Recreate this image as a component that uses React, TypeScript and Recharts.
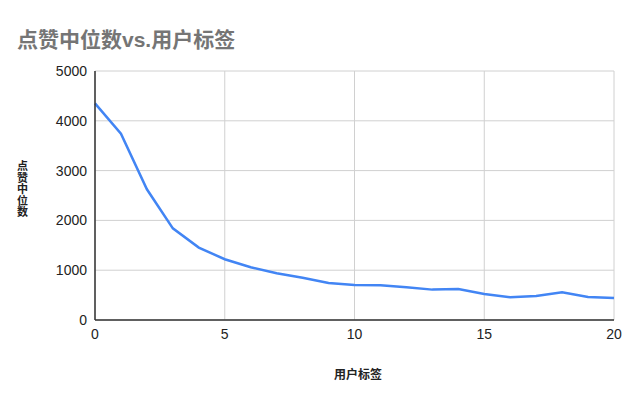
import React from 'react';
import { LineChart, Line, XAxis, YAxis, CartesianGrid } from 'recharts';

// 用户标签 0..20
const labels = [0, 1, 2, 3, 4, 5, 6, 7, 8, 9, 10, 11, 12, 13, 14, 15, 16, 17, 18, 19, 20];
const medianLikes = [
    4350, 3740, 2625, 1840, 1455, 1220, 1060, 940, 850, 745,
    705, 698, 656, 610, 622, 522, 457, 482, 556, 462, 442,
];
const xTicks = [0, 5, 10, 15, 20];
const yTicks = [0, 1000, 2000, 3000, 4000, 5000];

const data = labels.map((x, i) => ({ x, y: medianLikes[i] }));

const FONT = 'Arial, "Liberation Sans", "Noto Sans CJK SC", sans-serif';

export default function App() {
    return (
        <div style={{ position: 'absolute', left: 0, top: 0, width: 641, height: 404, background: '#fff', fontFamily: FONT }}>
            {/* title */}
            <div style={{ position: 'absolute', left: 17, top: 23, fontSize: 21, fontWeight: 700, color: '#757575', whiteSpace: 'nowrap' }}>
                点赞中位数vs.用户标签
            </div>
            {/* y axis title, stacked */}
            <div style={{ position: 'absolute', left: 16, top: 161, width: 13, fontSize: 11, lineHeight: '11.5px', fontWeight: 700, color: '#222', textAlign: 'center' }}>
                {'点赞中位数'.split('').map((c, i) => <div key={i}>{c}</div>)}
            </div>
            {/* x axis title */}
            <div style={{ position: 'absolute', left: 358, top: 365, transform: 'translateX(-50%)', fontSize: 12, fontWeight: 700, color: '#222', whiteSpace: 'nowrap' }}>
                用户标签
            </div>
            <LineChart width={641} height={404} data={data} margin={{ top: 71, right: 27, left: 0, bottom: 54 }}>
                <CartesianGrid stroke="#d0d0d0" strokeWidth={1} />
                <XAxis
                    dataKey="x"
                    type="number"
                    domain={[0, 20]}
                    ticks={xTicks}
                    height={30}
                    tickSize={0}
                    tickMargin={9}
                    axisLine={{ stroke: '#333', strokeWidth: 1.5 }}
                    tick={{ fill: '#222', fontSize: 14, fontFamily: FONT }}
                />
                <YAxis
                    type="number"
                    domain={[0, 5000]}
                    ticks={yTicks}
                    width={95}
                    tickSize={0}
                    tickMargin={8}
                    axisLine={{ stroke: '#333', strokeWidth: 1.5 }}
                    tick={{ fill: '#222', fontSize: 14, fontFamily: FONT }}
                />
                <Line
                    type="linear"
                    dataKey="y"
                    stroke="#4285F4"
                    strokeWidth={2.5}
                    dot={false}
                    isAnimationActive={false}
                />
            </LineChart>
        </div>
    );
}
